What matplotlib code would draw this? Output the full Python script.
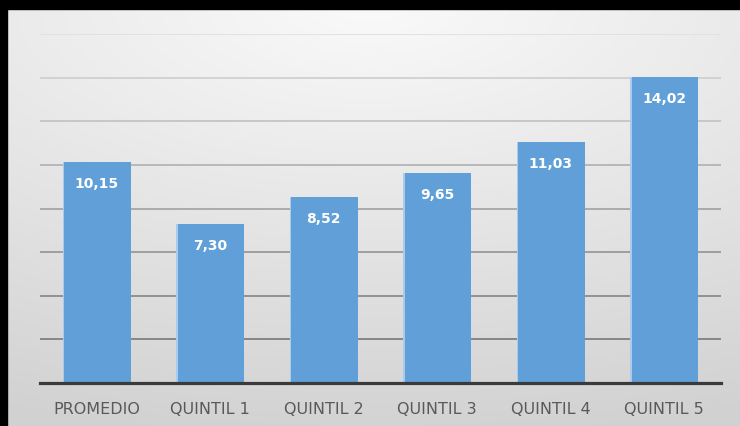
import numpy as np
import matplotlib
matplotlib.use('Agg')
import matplotlib.pyplot as plt

# Data
categories = ['PROMEDIO', 'QUINTIL 1', 'QUINTIL 2', 'QUINTIL 3', 'QUINTIL 4', 'QUINTIL 5']
values = [10.15, 7.30, 8.52, 9.65, 11.03, 14.02]
value_labels = ['10,15', '7,30', '8,52', '9,65', '11,03', '14,02']
grid_levels = [2, 4, 6, 8, 10, 12, 14, 16]

fig = plt.figure(figsize=(7.4, 4.26), dpi=100)

# background gradient: near white at the top middle, light grey towards bottom/corners
bg = fig.add_axes([0, 0, 1, 1])
yy, xx = np.mgrid[0:1:200j, 0:1:300j]
dist = np.sqrt(((xx - 0.5) * 0.8) ** 2 + ((yy - 0.0) * 1.0) ** 2)
shade = 0.98 - 0.16 * np.clip(dist / 1.05, 0, 1)
bg.imshow(np.dstack([shade, shade, shade]), aspect='auto', extent=[0, 1, 1, 0])
bg.set_xlim(0, 1)
bg.set_ylim(1, 0)
bg.axis('off')
# black frame on top and left
bg.add_patch(plt.Rectangle((0, 0), 1, 9 / 426, color='black', zorder=5))
bg.add_patch(plt.Rectangle((0, 0), 7 / 740, 1, color='black', zorder=5))

ax = fig.add_axes([40 / 740, (426 - 383) / 426, (721 - 40) / 740, (383 - 34) / 426])
ax.patch.set_alpha(0)

x = np.arange(len(categories))
ax.bar(x, values, width=0.6, color='#609fd8', zorder=3)
ax.bar(x - 0.3, values, width=0.012, align='edge', color='#a9cbed', zorder=4)

grid_colors = ['#808080', '#8c8c8c', '#999999', '#a6a6a6', '#b4b4b4', '#c4c4c4', '#d0d0d0', '#e0e0e0']
for lvl, c in zip(grid_levels, grid_colors):
    ax.axhline(lvl, color=c, linewidth=1.3, zorder=1)

for xi, v, lab in zip(x, values, value_labels):
    ax.annotate(lab, (xi, v), xytext=(0, -22), textcoords='offset pixels',
                ha='center', va='center', color='white', fontsize=10, fontweight='bold', zorder=5)

ax.set_xlim(-0.5, len(categories) - 0.5)
ax.set_ylim(0, 16)
ax.set_yticks([])
ax.set_xticks(x)
ax.set_xticklabels(categories, fontsize=11.5, color='#595959', family='DejaVu Sans')
ax.tick_params(axis='x', length=0, pad=14)
for s in ['top', 'right', 'left']:
    ax.spines[s].set_visible(False)
ax.spines['bottom'].set_color('#3a3a3a')
ax.spines['bottom'].set_linewidth(2.3)
ax.spines['bottom'].set_zorder(6)

fig.savefig('out.png', dpi=100)
